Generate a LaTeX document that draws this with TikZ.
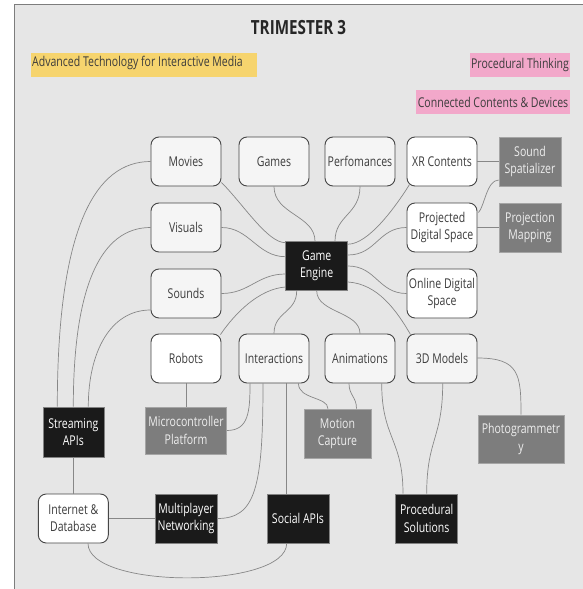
\documentclass[tikz,border=0pt]{standalone}
\usepackage{fontspec}
\setmainfont{Open Sans}[FakeStretch=0.78]
\usetikzlibrary{calc}

\definecolor{panelbg}{RGB}{230,230,230}
\definecolor{panelline}{RGB}{125,125,125}
\definecolor{boxfill}{RGB}{245,245,245}
\definecolor{boxline}{RGB}{70,70,70}
\definecolor{boxtext}{RGB}{60,60,60}
\definecolor{darkfill}{RGB}{26,26,26}
\definecolor{darkline}{RGB}{130,130,130}
\definecolor{grayfill}{RGB}{125,125,125}
\definecolor{grayline}{RGB}{165,165,165}
\definecolor{graytext}{RGB}{238,238,238}
\definecolor{linkcol}{RGB}{135,135,135}
\definecolor{tagyellow}{RGB}{246,212,110}
\definecolor{tagpink}{RGB}{242,168,202}

\tikzset{
  boxfont/.style={font=\fontsize{13.5}{17.3}\selectfont},
  rbox/.style={boxfont, draw=boxline, fill=boxfill, rounded corners=8pt,
    line width=0.9pt, minimum width=70pt, minimum height=49pt,
    text=boxtext, align=center, inner sep=1pt},
  wbox/.style={rbox, fill=white},
  dbox/.style={boxfont, draw=darkline, fill=darkfill, line width=0.6pt,
    text=white, align=center, minimum width=62pt, minimum height=49pt, inner sep=1pt},
  gbox/.style={boxfont, draw=grayline, fill=grayfill, line width=0.6pt,
    text=graytext, align=center, minimum height=49pt, inner sep=1pt},
  link/.style={draw=linkcol, line width=0.7pt},
  tag/.style={boxfont, text=boxtext, inner sep=0pt}
}

\begin{document}
\begin{tikzpicture}[x=1pt,y=-1pt]
\useasboundingbox (0,0) rectangle (583,589);
\fill[white] (0,0) rectangle (583,589);
\fill[panelbg] (14,4) rectangle (583,589);
\draw[panelline, line width=1pt] (14,589) -- (14,4) -- (583,4);

% heading and tags
\node[font=\fontsize{19.5}{22}\selectfont\bfseries, text=black!85] (title) at (298.5,28) {TRIMESTER 3};
\fill[tagyellow] (31,53) rectangle (257,77);
\node[tag, anchor=west] (atim) at (32,62.5) {Advanced Technology for Interactive Media};
\fill[tagpink] (470,53) rectangle (570,77);
\node[tag] (pthink) at (520,65) {Procedural Thinking};
\fill[tagpink] (416,90) rectangle (570,114);
\node[tag] (ccd) at (493,102) {Connected Contents \& Devices};

% central hub
\node[dbox] (ge) at (316.7,266) {Game\\Engine};

% first row
\node[rbox] (mv) at (186,161.5) {Movies};
\node[rbox] (gm) at (274,161.5) {Games};
\node[rbox] (pf) at (360,161.5) {Perfomances};
\node[wbox] (xr) at (442,161.5) {XR Contents};
\node[gbox, minimum width=62pt] (ss) at (530,161.5) {Sound\\Spatializer};

% second row
\node[rbox] (vs) at (186,227.5) {Visuals};
\node[wbox] (pj) at (442,227.5) {Projected\\Digital Space};
\node[gbox, minimum width=62pt] (pm) at (530,227.5) {Projection\\Mapping};

% third row
\node[rbox] (sd) at (186,293.5) {Sounds};
\node[wbox] (ol) at (442,293.5) {Online Digital\\Space};

% fourth row
\node[wbox] (rb) at (186,358.5) {Robots};
\node[rbox] (it) at (274,358.5) {Interactions};
\node[rbox] (an) at (360,358.5) {Animations};
\node[rbox] (md) at (442,358.5) {3D Models};

% tools
\node[dbox, minimum width=61pt, minimum height=50pt] (st) at (73.3,432) {Streaming\\APIs};
\node[gbox, minimum width=81pt, minimum height=47pt] (mc) at (186,430.5) {Microcontroller\\Platform};
\node[gbox, minimum width=67pt] (mo) at (337.5,433.5) {Motion\\Capture};
\node[gbox, minimum width=86pt, minimum height=48pt] (ph) at (521,439) {Photogrammetr\\y};

% bottom row
\node[wbox] (id) at (73.3,518.5) {Internet \&\\Database};
\node[dbox] (mp) at (186,518.5) {Multiplayer\\Networking};
\node[dbox] (sa) at (298,518.5) {Social APIs};
\node[dbox] (ps) at (426.7,518.5) {Procedural\\Solutions};

% links to the game engine
\draw[link] ($(mv.south east)+(0,-4)$) .. controls +(22,22) and +(-18,0) .. ($(ge.north west)+(0,1.5)$);
\draw[link] (gm.south) .. controls +(0,28) and +(0,-26) .. ($(ge.north)+(-1.7,0)$);
\draw[link] (pf.south) .. controls +(0,28) and +(0,-26) .. ($(ge.north)+(18.3,0)$);
\draw[link] ($(xr.south west)+(3,-2)$) .. controls +(-15,24) and +(20,0) .. ($(ge.north east)+(0,3)$);
\draw[link] (vs.east) .. controls +(28,0) and +(-28,0) .. ($(ge.west)+(0,-9.3)$);
\draw[link] (pj.west) .. controls +(-28,0) and +(28,0) .. ($(ge.east)+(0,-11)$);
\draw[link] (sd.east) .. controls +(28,0) and +(-28,0) .. ($(ge.west)+(0,8)$);
\draw[link] (ol.west) .. controls +(-28,0) and +(28,0) .. (ge.east);
\draw[link] ($(ge.east)+(0,16)$) .. controls +(30,2) and +(-14,-24) .. ($(md.north west)+(4,1)$);
\draw[link] ($(ge.west)+(0,21)$) .. controls +(-26,2) and +(15,-22) .. ($(rb.north east)+(-1,1)$);
\draw[link] ($(ge.south)+(-20,0)$) .. controls +(0,22) and +(0,-22) .. (it.north);
\draw[link] (ge.south) .. controls +(0,22) and +(0,-22) .. (an.north);

% right-hand tools
\draw[link] (xr.east) -- (ss.west);
\draw[link] ($(ss.west)+(0,18.5)$) .. controls +(-12,0) and +(6,-6) .. ($(pj.north east)+(1,10)$);
\draw[link] (pj.east) -- (pm.west);

% left-hand chain
\draw[link] (mv.west) .. controls +(-55,0) and +(0,-180) .. ($(st.north)+(-16,0)$);
\draw[link] (vs.west) .. controls +(-50,0) and +(0,-120) .. (st.north);
\draw[link] ($(sd.west)+(0,16.5)$) .. controls +(-40,0) and +(0,-55) .. ($(st.north)+(15,0)$);
\draw[link] (st.south) -- (id.north);

% lower links
\draw[link] (rb.south) -- (mc.north);
\draw[link] (mc.east) .. controls +(22,0) and +(0,28) .. ($(it.south)+(-24,0)$);
\draw[link] ($(it.south)+(-11,0)$) .. controls +(0,105) and +(38,0) .. (mp.east);
\draw[link] ($(it.south)+(12.7,0)$) -- ($(sa.north)+(-11.3,0)$);
\draw[link] ($(it.south east)+(-11,0)$) .. controls +(0,16) and +(0,-12) .. ($(mo.north)+(-9.5,0)$);
\draw[link] ($(an.south)+(-11,0)$) .. controls +(0,12) and +(0,-12) .. ($(mo.north)+(19,0)$);
\draw[link] ($(an.south)+(21.7,0)$) .. controls +(0,55) and +(0,-55) .. ($(ps.north)+(-23.7,0)$);
\draw[link] ($(md.south)+(0.7,0)$) .. controls +(0,55) and +(0,-55) .. (ps.north);
\draw[link] ($(md.east)+(0,-0.5)$) .. controls +(42,0) and +(0,-40) .. (ph.north);
\draw[link] (id.east) -- (mp.west);
\draw[link] ($(id.south)+(14.7,0)$) .. controls +(0,46) and +(0,46) .. ($(sa.south)+(-11.3,0)$);
\end{tikzpicture}
\end{document}
